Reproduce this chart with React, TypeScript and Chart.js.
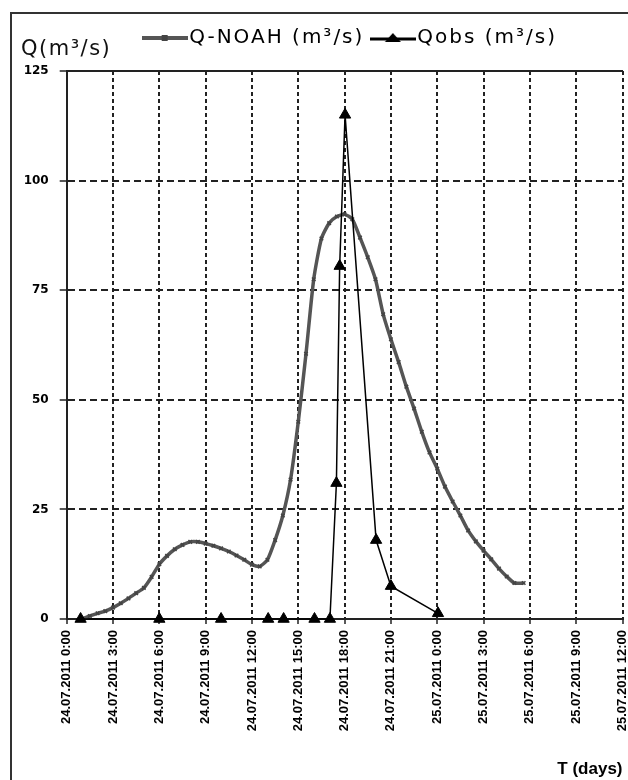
import { useEffect, useRef } from 'react';
import { Chart, registerables } from 'chart.js';

Chart.register(...registerables);

const xTickLabels = [
  '24.07.2011 0:00', '24.07.2011 3:00', '24.07.2011 6:00', '24.07.2011 9:00',
  '24.07.2011 12:00', '24.07.2011 15:00', '24.07.2011 18:00', '24.07.2011 21:00',
  '25.07.2011 0:00', '25.07.2011 3:00', '25.07.2011 6:00', '25.07.2011 9:00',
  '25.07.2011 12:00',
];
const yTicks = [0, 25, 50, 75, 100, 125];
const seriesNames = ['Q-NOAH (m³/s)', 'Qobs (m³/s)'];

// Q-NOAH: hours since 24.07.2011 0:00 and discharge
const noahHours = [
  1.0, 1.5, 2.0, 2.5, 3.0, 3.5, 4.0, 4.5, 5.0, 5.5, 6.0, 6.5, 7.0, 7.5, 8.0, 8.5,
  9.0, 9.5, 10.0, 10.5, 11.0, 11.5, 12.0, 12.5, 13.0, 13.5, 14.0, 14.5, 15.0, 15.5,
  16.0, 16.5, 17.0, 17.5, 18.0, 18.5, 19.0, 19.5, 20.0, 20.5, 21.0, 21.5, 22.0, 22.5,
  23.0, 23.5, 24.0, 24.5, 25.0, 25.5, 26.0, 26.5, 27.0, 27.5, 28.0, 28.5, 29.0, 29.6,
];
const noahValues = [
  0, 0.7, 1.3, 1.8, 2.6, 3.6, 4.7, 5.9, 7.1, 9.6, 12.5, 14.4, 15.9, 16.9, 17.6, 17.6,
  17.2, 16.7, 16.1, 15.4, 14.5, 13.5, 12.4, 12.0, 13.5, 18.0, 23.6, 31.8, 45.0, 60.5,
  77.5, 86.8, 90.3, 91.8, 92.3, 91.2, 87.0, 82.5, 77.5, 69.5, 63.8, 58.6, 53.0, 48.0,
  42.7, 38.0, 34.3, 30.2, 26.8, 23.6, 20.2, 17.7, 15.6, 13.6, 11.5, 9.7, 8.2, 8.2,
];

// Qobs
const obsHours = [0.9, 6.0, 10.0, 13.05, 14.05, 16.05, 17.05, 17.47, 17.68, 18.03, 20.04, 21.0, 24.05];
const obsValues = [0, 0, 0, 0, 0, 0, 0, 31, 80.5, 115, 18, 7.5, 1.3];

const NOAH_COLOR = '#555555';
const OBS_COLOR = '#000000';
const GRID_COLOR = '#222222';

function makeSymbol(kind: 'noah' | 'obs'): HTMLCanvasElement {
  const c = document.createElement('canvas');
  c.width = 46;
  c.height = 14;
  const g = c.getContext('2d')!;
  if (kind === 'noah') {
    g.strokeStyle = NOAH_COLOR;
    g.lineWidth = 4;
    g.beginPath();
    g.moveTo(0, 7);
    g.lineTo(46, 7);
    g.stroke();
    g.fillStyle = '#444';
    g.fillRect(20, 4, 6, 6);
  } else {
    g.strokeStyle = OBS_COLOR;
    g.lineWidth = 3;
    g.beginPath();
    g.moveTo(0, 8);
    g.lineTo(46, 8);
    g.stroke();
    g.fillStyle = OBS_COLOR;
    g.beginPath();
    g.moveTo(23, 2);
    g.lineTo(31, 11);
    g.lineTo(15, 11);
    g.closePath();
    g.fill();
  }
  return c;
}

export default function App() {
  const ref = useRef<HTMLCanvasElement>(null);

  useEffect(() => {
    if (!ref.current) return;
    const noahSym = makeSymbol('noah');
    const obsSym = makeSymbol('obs');
    const chart = new Chart(ref.current, {
      type: 'line',
      data: {
        datasets: [
          {
            label: seriesNames[0],
            data: noahHours.map((x, i) => ({ x, y: noahValues[i] })),
            borderColor: NOAH_COLOR,
            backgroundColor: NOAH_COLOR,
            borderWidth: 3.5,
            pointStyle: 'crossRot',
            pointRadius: 2.5,
            pointBorderWidth: 1.5,
            pointBorderColor: '#444',
            tension: 0.2,
            order: 1,
          },
          {
            label: seriesNames[1],
            data: obsHours.map((x, i) => ({ x, y: obsValues[i] })),
            borderColor: OBS_COLOR,
            backgroundColor: OBS_COLOR,
            borderWidth: 1.5,
            pointStyle: 'triangle',
            pointRadius: 6.5,
            pointBorderWidth: 1,
            pointBackgroundColor: OBS_COLOR,
            pointBorderColor: OBS_COLOR,
            tension: 0,
            order: 0,
            clip: false,
          },
        ],
      },
      options: {
        responsive: false,
        animation: false,
        events: [],
        layout: { padding: { left: 0, right: 4, top: 0, bottom: 0 } },
        plugins: {
          tooltip: { enabled: false },
          legend: {
            position: 'top',
            fullSize: false,
            align: 'center',
            labels: {
              usePointStyle: true,
              pointStyleWidth: 29,
              padding: 14,
              color: '#111',
              font: { family: '"DejaVu Sans", sans-serif', size: 20 },
              generateLabels: () => [
                { text: seriesNames[0], pointStyle: noahSym as any, fillStyle: NOAH_COLOR, strokeStyle: NOAH_COLOR, lineWidth: 0, hidden: false, datasetIndex: 0 },
                { text: seriesNames[1], pointStyle: obsSym as any, fillStyle: OBS_COLOR, strokeStyle: OBS_COLOR, lineWidth: 0, hidden: false, datasetIndex: 1 },
              ],
            },
          },
        },
        scales: {
          x: {
            type: 'linear',
            position: 'bottom',
            min: 0,
            max: 36,
            afterFit: (s: any) => {
              s.height = 161;
              s.paddingLeft = 0;
              s.paddingRight = 0;
            },
            ticks: {
              stepSize: 3,
              autoSkip: false,
              maxRotation: 90,
              minRotation: 90,
              padding: 6,
              color: '#000',
              font: { family: '"Liberation Sans", Arial, sans-serif', size: 13, weight: 'bold' },
              callback: (v: any) => xTickLabels[Math.round(Number(v) / 3)] ?? '',
            },
            grid: { color: GRID_COLOR, lineWidth: 2, tickLength: 5, tickColor: GRID_COLOR, tickWidth: 1.5, tickBorderDash: [] },
            border: { color: GRID_COLOR, width: 2, dash: [4, 3] },
            title: {
              display: true,
              text: 'T (days)',
              align: 'end',
              color: '#000',
              font: { family: '"Liberation Sans", Arial, sans-serif', size: 17, weight: 'bold' },
              padding: { top: 0, bottom: 0 },
            },
          },
          x2: {
            type: 'linear',
            position: 'top',
            min: 0,
            max: 36,
            afterFit: (s: any) => {
              s.height = 13;
              s.paddingLeft = 0;
              s.paddingRight = 0;
            },
            ticks: { display: false },
            grid: { drawOnChartArea: false, drawTicks: false },
            border: { color: GRID_COLOR, width: 2 },
          },
          y: {
            type: 'linear',
            min: yTicks[0],
            max: yTicks[yTicks.length - 1],
            afterFit: (s: any) => {
              s.width = 54.7;
            },
            afterBuildTicks: (s: any) => {
              s.ticks = yTicks.map((value) => ({ value }));
            },
            ticks: {
              padding: 11,
              color: '#000',
              font: { family: '"DejaVu Sans", sans-serif', size: 12, weight: 'bold' },
            },
            grid: { color: GRID_COLOR, lineWidth: 2, tickLength: 7, tickColor: GRID_COLOR, tickWidth: 1.5, tickBorderDash: [] },
            border: { color: GRID_COLOR, width: 2, dash: [7, 4] },
          },
        },
      },
    } as any);

    // widen legend lettering (the reference text is horizontally stretched)
    // and nudge the legend a little to the right, as in the reference
    const lg: any = (chart as any).legend;
    if (lg) {
      const ctx: any = chart.ctx;
      const origFit = lg.fit;
      const origDraw = lg.draw;
      lg.fit = function (...args: any[]) {
        const prev = ctx.letterSpacing;
        ctx.letterSpacing = '2px';
        const r = origFit.apply(lg, args);
        ctx.letterSpacing = prev || '0px';
        return r;
      };
      lg.draw = function (...args: any[]) {
        const prev = ctx.letterSpacing;
        ctx.save();
        ctx.translate(9, 0);
        ctx.letterSpacing = '2px';
        const r = origDraw.apply(lg, args);
        ctx.restore();
        ctx.letterSpacing = prev || '0px';
        return r;
      };
      chart.update();
    }

    return () => chart.destroy();
  }, []);

  return (
    <>
      <style>{'html,body{margin:0;padding:0;overflow:hidden;background:#fff}'}</style>
      <div
        style={{
          position: 'absolute',
          left: 10,
          top: 12,
          width: 640,
          height: 800,
          borderLeft: '2px solid #333',
          borderTop: '2px solid #333',
        }}
      >
        <canvas ref={ref} width={618} height={766} style={{ display: 'block', width: 618, height: 766 }} />
        <div
          style={{
            position: 'absolute',
            left: 9,
            top: 22,
            font: '21px "DejaVu Sans", sans-serif',
            lineHeight: '24px',
            letterSpacing: '1.5px',
            color: '#111',
            whiteSpace: 'nowrap',
          }}
        >
          Q(m³/s)
        </div>
      </div>
    </>
  );
}
